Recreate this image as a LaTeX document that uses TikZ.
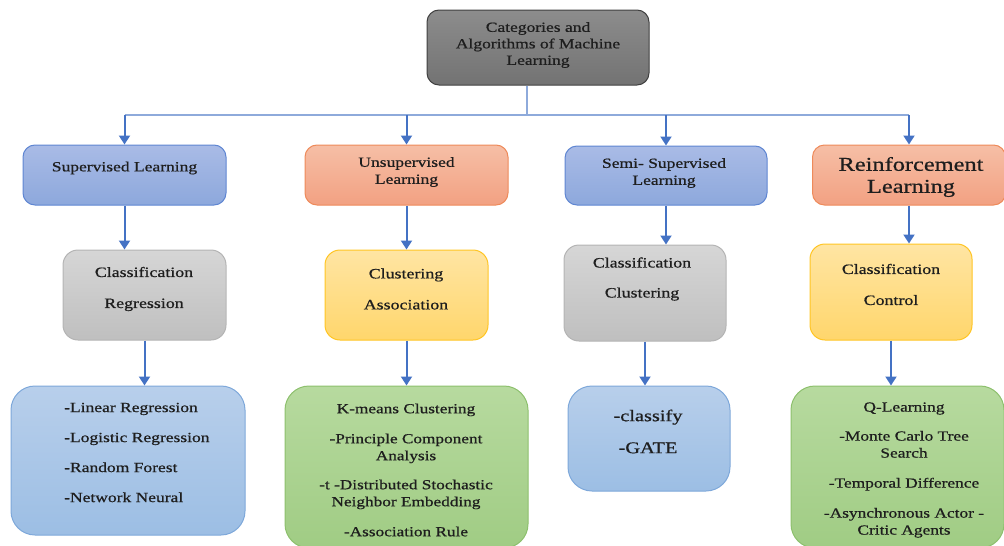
\documentclass[tikz,border=0pt]{standalone}
\usepackage{fontspec}
\setmainfont{Liberation Serif}[FakeStretch=1.25,FakeBold=0.7]
\usetikzlibrary{arrows.meta}
\definecolor{arrblue}{HTML}{4472C4}
\definecolor{busblue}{HTML}{8EAADB}
\definecolor{txtc}{HTML}{1E1E1E}
\definecolor{blueT}{HTML}{A9BBE6}\definecolor{blueB}{HTML}{8DA8DC}\definecolor{blueD}{HTML}{5F86D2}
\definecolor{salT}{HTML}{F6BFA6}\definecolor{salB}{HTML}{F2A182}\definecolor{salD}{HTML}{EE8A5A}
\definecolor{grayT}{HTML}{D6D6D6}\definecolor{grayB}{HTML}{BFBFBF}\definecolor{grayD}{HTML}{B4B4B4}
\definecolor{yelT}{HTML}{FFE5A3}\definecolor{yelB}{HTML}{FFD66C}\definecolor{yelD}{HTML}{FFC524}
\definecolor{lbT}{HTML}{B8CFEB}\definecolor{lbB}{HTML}{9CBEE4}\definecolor{lbD}{HTML}{7EA8DA}
\definecolor{grT}{HTML}{B7DA9F}\definecolor{grB}{HTML}{A0CC84}\definecolor{grD}{HTML}{8DC06D}
\tikzset{
  boxbase/.style={rectangle, line width=1pt, inner sep=0pt},
  topbox/.style={boxbase, rounded corners=12pt, top color=black!45, bottom color=black!55, draw=black!75},
  bluebox/.style={boxbase, rounded corners=12pt, top color=blueT, bottom color=blueB, draw=blueD},
  salmonbox/.style={boxbase, rounded corners=12pt, top color=salT, bottom color=salB, draw=salD},
  graybox/.style={boxbase, rounded corners=15pt, top color=grayT, bottom color=grayB, draw=grayD},
  yellowbox/.style={boxbase, rounded corners=15pt, top color=yelT, bottom color=yelB, draw=yelD},
  lbluebox/.style={boxbase, rounded corners=24pt, top color=lbT, bottom color=lbB, draw=lbD},
  greenbox/.style={boxbase, rounded corners=24pt, top color=grT, bottom color=grB, draw=grD},
  txt/.style={text=txtc, align=center, inner sep=0pt},
  arr/.style={draw=arrblue, line width=2pt, -{Triangle[length=9pt,width=11pt]}},
  busline/.style={draw=busblue, line width=1.6pt},
}
\begin{document}
\begin{tikzpicture}[x=1pt,y=-1pt]
\useasboundingbox (0,0) rectangle (1004,546);
% boxes
\node[topbox, minimum width=222pt, minimum height=75pt] (top) at (538,47.5) {};
\node[bluebox, minimum width=203pt, minimum height=60pt] (sup) at (124.5,175) {};
\node[salmonbox, minimum width=203pt, minimum height=60pt] (uns) at (406.5,175) {};
\node[bluebox, minimum width=202pt, minimum height=59pt] (semi) at (666,175.5) {};
\node[salmonbox, minimum width=193pt, minimum height=60pt] (rl) at (909,175) {};
\node[graybox, minimum width=163pt, minimum height=90pt] (supc) at (144.5,295) {};
\node[yellowbox, minimum width=163pt, minimum height=90pt] (unsc) at (406.5,295) {};
\node[graybox, minimum width=162pt, minimum height=96pt] (semic) at (645,293) {};
\node[yellowbox, minimum width=162pt, minimum height=96pt] (rlc) at (891,292) {};
\node[lbluebox, minimum width=234pt, minimum height=149pt] (supa) at (128,460.5) {};
\node[greenbox, minimum width=243pt, minimum height=162pt] (unsa) at (406.5,467) {};
\node[lbluebox, minimum width=162pt, minimum height=105pt] (semia) at (649,438.5) {};
\node[greenbox, minimum width=213pt, minimum height=162pt] (rla) at (897.5,467) {};
% texts
\node[txt, font=\fontsize{14}{16.5}\selectfont] (ttop) at (538,45) {Categories and\\Algorithms of Machine\\Learning};
\node[txt, font=\fontsize{14}{17}\selectfont] (tsup) at (124.5,168) {Supervised Learning};
\node[txt, font=\fontsize{14}{17}\selectfont] (tuns) at (406.5,172) {Unsupervised\\Learning};
\node[txt, font=\fontsize{14}{17}\selectfont] (tsemi) at (664,173) {Semi- Supervised\\Learning};
\node[txt, font=\fontsize{19.5}{22}\selectfont] (trl) at (911,177) {Reinforcement\\Learning};
\node[txt, font=\fontsize{14.3}{31}\selectfont] (tsupc) at (144,289) {Classification\\Regression};
\node[txt, font=\fontsize{14.3}{31}\selectfont] (tunsc) at (406,289) {Clustering\\Association};
\node[txt, font=\fontsize{14.3}{30}\selectfont] (tsemic) at (642,279) {Classification\\Clustering};
\node[txt, font=\fontsize{14.3}{31}\selectfont] (trlc) at (891,284.5) {Classification\\Control};
\node[txt, align=left, anchor=west, font=\fontsize{14}{30}\selectfont] (tsupa) at (64,452.5) {-Linear Regression\\-Logistic Regression\\-Random Forest\\-Network Neural};
\node[txt, font=\fontsize{13.8}{17}\selectfont] (tunsa) at (406,470) {K-means Clustering\\[13pt]-Principle Component\\Analysis\\[12pt]-t -Distributed Stochastic\\Neighbor Embedding\\[13pt]-Association Rule};
\node[txt, font=\fontsize{16.3}{32}\selectfont] (tsemia) at (648,431.5) {-classify\\-GATE};
\node[txt, font=\fontsize{13.9}{17}\selectfont] (trla) at (904,470) {Q-Learning\\[12pt]-Monte Carlo Tree\\Search\\[13pt]-Temporal Difference\\[13pt]-Asynchronous Actor -\\Critic Agents};
% connectors
\coordinate (bus) at (527,115);
\draw[busline] (top.south -| bus) -- (bus);
\draw[busline] (sup.north |- bus) -- (rl.north |- bus);
\draw[arr] (sup.north |- bus) -- (sup.north);
\draw[arr] (uns.north |- bus) -- (uns.north);
\draw[arr] (semi.north |- bus) -- (semi.north);
\draw[arr] (rl.north |- bus) -- (rl.north);
\draw[arr] (sup.south) -- (sup.south |- supc.north);
\draw[arr] (uns.south) -- (uns.south |- unsc.north);
\draw[arr] (semi.south) -- (semi.south |- semic.north);
\draw[arr] (rl.south) -- (rl.south |- rlc.north);
\draw[arr] (supc.south) -- (supc.south |- supa.north);
\draw[arr] (unsc.south) -- (unsc.south |- unsa.north);
\draw[arr] (semic.south) -- (semic.south |- semia.north);
\draw[arr] (rlc.south) -- (rlc.south |- rla.north);
\end{tikzpicture}
\end{document}
